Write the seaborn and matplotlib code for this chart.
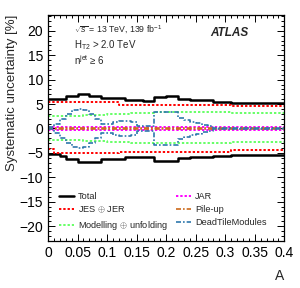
"""
Systematic uncertainties vs A (ATLAS-style histogram lines)
"""

import numpy as np
import pandas as pd
import matplotlib
matplotlib.use('Agg')
import matplotlib.pyplot as plt
import seaborn as sns

# bin edges in A (0.01 wide)
bin_edges = [round(0.01 * i, 2) for i in range(41)]

# relative uncertainties in %, one value per bin
total_up = [6.0, 6.0, 6.0, 6.6, 6.6, 7.0, 7.0, 6.6, 6.6, 6.2,
            6.2, 6.2, 6.2, 5.9, 5.9, 5.9, 5.7, 5.7, 6.4, 6.4,
            6.7, 6.7, 6.1, 6.1, 5.8, 5.8, 5.8, 5.8, 5.5, 5.5,
            5.5, 5.3, 5.3, 5.3, 5.3, 5.3, 5.3, 5.3, 5.3, 5.3]
total_down = [-5.2, -5.2, -5.6, -6.2, -6.2, -6.8, -6.8, -6.8, -6.8, -6.2,
              -6.2, -6.2, -6.2, -5.8, -5.8, -5.8, -5.8, -5.8, -6.6, -6.6,
              -6.6, -6.6, -6.1, -6.1, -5.9, -5.9, -5.9, -5.9, -5.6, -5.6,
              -5.6, -5.4, -5.4, -5.4, -5.4, -5.4, -5.4, -5.4, -5.4, -5.4]

jes_up = [5.4, 5.4, 5.4, 5.4, 5.4, 5.4, 5.4, 5.4, 5.4, 5.4,
          5.4, 5.4, 4.9, 4.9, 4.9, 4.9, 4.9, 4.9, 4.9, 4.9,
          4.9, 4.9, 4.9, 4.9, 4.9, 4.9, 4.9, 4.9, 4.9, 4.9,
          4.9, 4.7, 4.7, 4.7, 4.7, 4.7, 4.7, 4.7, 4.7, 4.7]
jes_down = [-4.3, -5.0, -5.0, -5.0, -5.0, -5.0, -5.0, -5.0, -5.0, -5.0,
            -5.0, -5.0, -4.8, -4.8, -4.8, -4.8, -4.8, -4.8, -4.8, -4.8,
            -4.8, -4.8, -4.8, -4.8, -4.8, -4.8, -4.8, -4.8, -4.8, -4.8,
            -4.8, -4.4, -4.4, -4.4, -4.4, -4.4, -4.4, -4.4, -4.4, -4.4]

model_up = [2.6, 2.6, 2.6, 2.6, 2.6, 2.6, 2.8, 2.8, 2.8, 2.8,
            3.0, 3.0, 3.0, 3.0, 3.2, 3.2, 3.2, 3.2, 3.3, 3.3,
            3.3, 3.3, 3.3, 3.3, 3.3, 3.3, 3.3, 3.3, 3.3, 3.3,
            3.3, 3.1, 3.1, 3.1, 3.1, 3.1, 3.1, 3.1, 3.1, 3.1]
model_down = [-2.4, -2.4, -2.4, -2.4, -2.4, -2.4, -2.6, -2.6, -2.6, -2.6,
              -2.8, -2.8, -2.8, -2.8, -3.0, -3.0, -3.0, -3.0, -3.0, -3.0,
              -3.0, -3.0, -3.0, -3.0, -3.0, -3.0, -3.0, -3.0, -3.0, -3.0,
              -3.0, -2.8, -2.8, -2.8, -2.8, -2.8, -2.8, -2.8, -2.8, -2.8]

jar_up = [0.3] * 40
jar_down = [-0.3] * 40

pileup_up = [0.15] * 40
pileup_down = [-0.15] * 40

dead_up = [0.2, 1.0, 2.0, 3.0, 3.7, 4.0, 3.7, 3.0, 2.0, 1.0,
           1.0, 1.3, 1.6, 1.6, 1.3, 0.6, 0.5, 0.5, 3.3, 3.3,
           3.3, 3.3, 2.2, 1.8, 1.3, 1.1, 0.7, 0.6, 0.1, 0.1,
           0.1, 0.1, 0.1, 0.1, 0.1, 0.1, 0.1, 0.1, 0.1, 0.1]
dead_down = [-0.2, -1.0, -2.0, -3.0, -3.7, -4.0, -3.7, -3.0, -2.0, -1.0,
             -1.0, -1.3, -1.6, -1.6, -1.3, -0.6, -0.5, -0.5, -3.3, -3.3,
             -3.3, -3.3, -2.2, -1.8, -1.3, -1.1, -0.7, -0.6, -0.1, -0.1,
             -0.1, -0.1, -0.1, -0.1, -0.1, -0.1, -0.1, -0.1, -0.1, -0.1]

dotted = (0, (1.2, 1.0))
dashdot = (0, (3.0, 1.2, 1.0, 1.2))
series = [
    ('Total', total_up, total_down, 'black', '-', 1.8),
    ('JES $\\oplus$ JER', jes_up, jes_down, '#ff0000', dotted, 1.4),
    ('Modelling $\\oplus$ unfolding', model_up, model_down, '#66ff66', dotted, 1.4),
    ('JAR', jar_up, jar_down, '#ff00ff', dotted, 1.4),
    ('Pile-up', pileup_up, pileup_down, '#cc6a1a', dashdot, 1.2),
    ('DeadTileModules', dead_up, dead_down, '#2f78ad', dashdot, 1.2),
]


def steps(values):
    # step line through the bin edges (last value repeated at the end)
    return pd.DataFrame({'x': bin_edges, 'y': list(values) + [values[-1]]})


sns.set_style('ticks')
plt.rcParams['font.family'] = ['Liberation Sans', 'DejaVu Sans']
plt.rcParams['mathtext.fontset'] = 'custom'
plt.rcParams['mathtext.rm'] = 'Liberation Sans'
plt.rcParams['mathtext.it'] = 'Liberation Sans:italic'
plt.rcParams['mathtext.bf'] = 'Liberation Sans:bold'

fig = plt.figure(figsize=(3.0, 2.88), dpi=100)
ax = fig.add_axes([0.16, 0.164, 0.788, 0.785])

legend_order = [s[0] for s in series]
for name, up, down, color, ls, lw in series:
    for i, vals in enumerate([up, down]):
        sns.lineplot(data=steps(vals), x='x', y='y', ax=ax,
                     drawstyle='steps-post', color=color, linestyle=ls,
                     linewidth=lw, estimator=None, sort=False,
                     label=name if i == 0 else None)

handles, labels = ax.get_legend_handles_labels()
lookup = dict(zip(labels, handles))
# two columns: Total/JES/Modelling | JAR/Pile-up/DeadTile
ax.legend([lookup[l] for l in legend_order], legend_order,
          ncol=2, frameon=False, fontsize=6.6,
          loc='upper left', bbox_to_anchor=(0.04, 0.225),
          borderaxespad=0, borderpad=0.2, handlelength=1.6,
          handletextpad=0.4, columnspacing=1.0, labelspacing=0.45)

ax.set_xlim(0, 0.4)
ax.set_ylim(-23, 23.3)
ax.set_xticks(np.arange(0, 0.401, 0.05))
ax.set_xticklabels(['0', '0.05', '0.1', '0.15', '0.2', '0.25', '0.3', '0.35', '0.4'])
ax.set_xticks(np.arange(0, 0.401, 0.01), minor=True)
ax.set_yticks([-20, -15, -10, -5, 0, 5, 10, 15, 20])
ax.set_yticks(np.arange(-23, 24, 1), minor=True)
ax.tick_params(which='both', direction='in', top=True, right=True,
               labelsize=10, width=0.7, colors='black')
ax.tick_params(which='major', length=5)
ax.tick_params(which='minor', length=2.5)
ax.tick_params(axis='x', pad=4)
for sp in ax.spines.values():
    sp.set_linewidth(0.9)
    sp.set_color('black')

ax.set_xlabel('A', loc='right', fontsize=10, labelpad=6)
ax.set_ylabel('Systematic uncertainty [%]', loc='top', fontsize=9.5, labelpad=1)

ax.text(0.11, 0.932, '$\\sqrt{s}$ = 13 TeV, 139 fb$^{-1}$', transform=ax.transAxes,
        fontsize=6.3, va='center', ha='left')
ax.text(0.11, 0.866, 'H$_{\\mathrm{T2}}$ > 2.0 TeV', transform=ax.transAxes,
        fontsize=7, va='center', ha='left')
ax.text(0.11, 0.80, 'n$^{\\mathrm{jet}}$ ≥ 6', transform=ax.transAxes,
        fontsize=7, va='center', ha='left')
ax.text(0.688, 0.919, 'ATLAS', transform=ax.transAxes, fontsize=8.5,
        fontweight='bold', fontstyle='italic', va='center', ha='left')

fig.savefig('out.png', dpi=100)
